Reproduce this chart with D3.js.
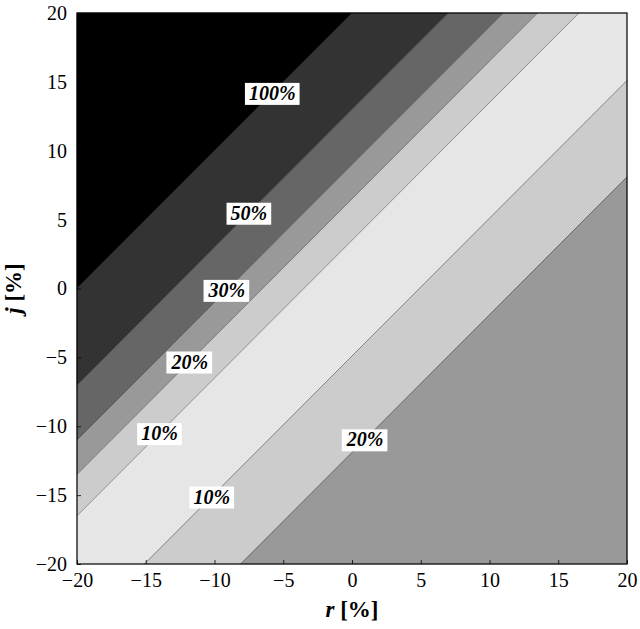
<!DOCTYPE html>
<html>
<head>
<meta charset="utf-8">
<script src="https://cdn.jsdelivr.net/npm/d3@7"></script>
<style>
  body { margin: 0; background: #fff; }
</style>
</head>
<body>
<div id="chart"></div>
<script>
// contour boundaries, given as the offset c of the line j = r + c
const contourOffsets = [20, 13, 9, 6.5, 3.5, -4.9, -11.9];
const contourLabels = ["100%", "50%", "30%", "20%", "10%", "10%", "20%"];
// r position of each contour label along its line
const labelR = [-5.8, -7.5, -9.1, -11.8, -14.0, -10.2, 0.95];
// grey level of each band, from top-left to bottom-right
const bandGrey = [0, 0.2, 0.4, 0.6, 0.8, 0.9, 0.8, 0.6];
const xTicks = [-20, -15, -10, -5, 0, 5, 10, 15, 20];
const yTicks = [-20, -15, -10, -5, 0, 5, 10, 15, 20];

const serif = "'Liberation Serif', 'Times New Roman', Tinos, 'DejaVu Serif', serif";

const width = 640, height = 629;
const margin = {top: 13, right: 13, bottom: 65, left: 77};

const svg = d3.select("#chart").append("svg")
    .attr("width", width)
    .attr("height", height)
    .style("font-family", serif);

const x = d3.scaleLinear().domain([-20, 20]).range([margin.left, width - margin.right]);
const y = d3.scaleLinear().domain([-20, 20]).range([height - margin.bottom, margin.top]);

// clip a polygon (data coords) by the half plane a*r + b*j <= c
function clipHalf(poly, a, b, c) {
    const out = [];
    for (let i = 0; i < poly.length; i++) {
        const p = poly[i], q = poly[(i + 1) % poly.length];
        const fp = a * p[0] + b * p[1] - c, fq = a * q[0] + b * q[1] - c;
        if (fp <= 0) out.push(p);
        if ((fp < 0 && fq > 0) || (fp > 0 && fq < 0)) {
            const t = fp / (fp - fq);
            out.push([p[0] + t * (q[0] - p[0]), p[1] + t * (q[1] - p[1])]);
        }
    }
    return out;
}

const square = [[-20, -20], [20, -20], [20, 20], [-20, 20]];
const edges = [Infinity, ...contourOffsets, -Infinity];
const bands = bandGrey.map((g, i) => {
    let poly = square;
    const hi = edges[i], lo = edges[i + 1];
    if (isFinite(hi)) poly = clipHalf(poly, -1, 1, hi);   // j - r <= hi
    if (isFinite(lo)) poly = clipHalf(poly, 1, -1, -lo);  // j - r >= lo
    return {grey: g, poly};
});

const line = d3.line().x(d => x(d[0])).y(d => y(d[1]));
const greyColor = g => d3.rgb(255 * g, 255 * g, 255 * g);

svg.append("g").selectAll("path")
    .data(bands.filter(b => b.poly.length > 2))
    .join("path")
    .attr("d", d => line(d.poly) + "Z")
    .attr("fill", d => greyColor(d.grey))
    .attr("stroke", d => greyColor(d.grey))
    .attr("stroke-width", 0.5);

// contour lines
svg.append("g").selectAll("path")
    .data(contourOffsets)
    .join("path")
    .attr("d", c => {
        const r0 = Math.max(-20, -20 - c), r1 = Math.min(20, 20 - c);
        return line([[r0, r0 + c], [r1, r1 + c]]);
    })
    .attr("stroke", "#000")
    .attr("stroke-opacity", 0.55)
    .attr("stroke-width", 0.7)
    .attr("fill", "none");

// contour labels on white boxes
const labels = svg.append("g").selectAll("g")
    .data(contourLabels.map((t, i) => ({text: t, r: labelR[i], j: labelR[i] + contourOffsets[i]})))
    .join("g")
    .attr("transform", d => `translate(${x(d.r)},${y(d.j)})`);

labels.append("rect");
labels.append("text")
    .attr("text-anchor", "middle")
    .attr("dy", "0.35em")
    .style("font-family", serif)
    .style("font-size", "20px")
    .style("font-weight", "bold")
    .style("font-style", "italic")
    .text(d => d.text);

labels.each(function() {
    const g = d3.select(this);
    const bb = g.select("text").node().getBBox();
    g.select("rect")
        .attr("x", bb.x - 4)
        .attr("y", bb.y + 1)
        .attr("width", bb.width + 8)
        .attr("height", bb.height)
        .attr("fill", "#fff");
});

// axes
const xAxis = svg.append("g")
    .attr("transform", `translate(0,${y(-20)})`)
    .call(d3.axisBottom(x).tickValues(xTicks).tickSize(-4).tickPadding(9));
const yAxis = svg.append("g")
    .attr("transform", `translate(${x(-20)},0)`)
    .call(d3.axisLeft(y).tickValues(yTicks).tickSize(-4).tickPadding(10));

[xAxis, yAxis].forEach(ax => {
    ax.attr("font-family", null).attr("font-size", null);
    ax.select(".domain").remove();
    ax.selectAll(".tick line").attr("stroke", "#000").attr("stroke-width", 0.8);
    ax.selectAll("text")
        .style("font-size", "20px")
        .style("font-family", serif)
        .attr("fill", "#000");
});

// frame
svg.append("rect")
    .attr("x", x(-20))
    .attr("y", y(20))
    .attr("width", x(20) - x(-20))
    .attr("height", y(-20) - y(20))
    .attr("fill", "none")
    .attr("stroke", "#000")
    .attr("stroke-width", 1.2);

// axis titles
const xTitle = svg.append("text")
    .attr("x", (x(-20) + x(20)) / 2)
    .attr("y", 617)
    .attr("text-anchor", "middle")
    .style("font-family", serif)
    .style("font-size", "23px")
    .style("font-weight", "bold");
xTitle.append("tspan").style("font-style", "italic").text("r");
xTitle.append("tspan").text(" [%]");

const yTitle = svg.append("text")
    .attr("transform", `translate(21,${(y(-20) + y(20)) / 2}) rotate(-90)`)
    .attr("text-anchor", "middle")
    .style("font-family", serif)
    .style("font-size", "23px")
    .style("font-weight", "bold");
yTitle.append("tspan").style("font-style", "italic").text("j");
yTitle.append("tspan").text(" [%]");
</script>
</body>
</html>
